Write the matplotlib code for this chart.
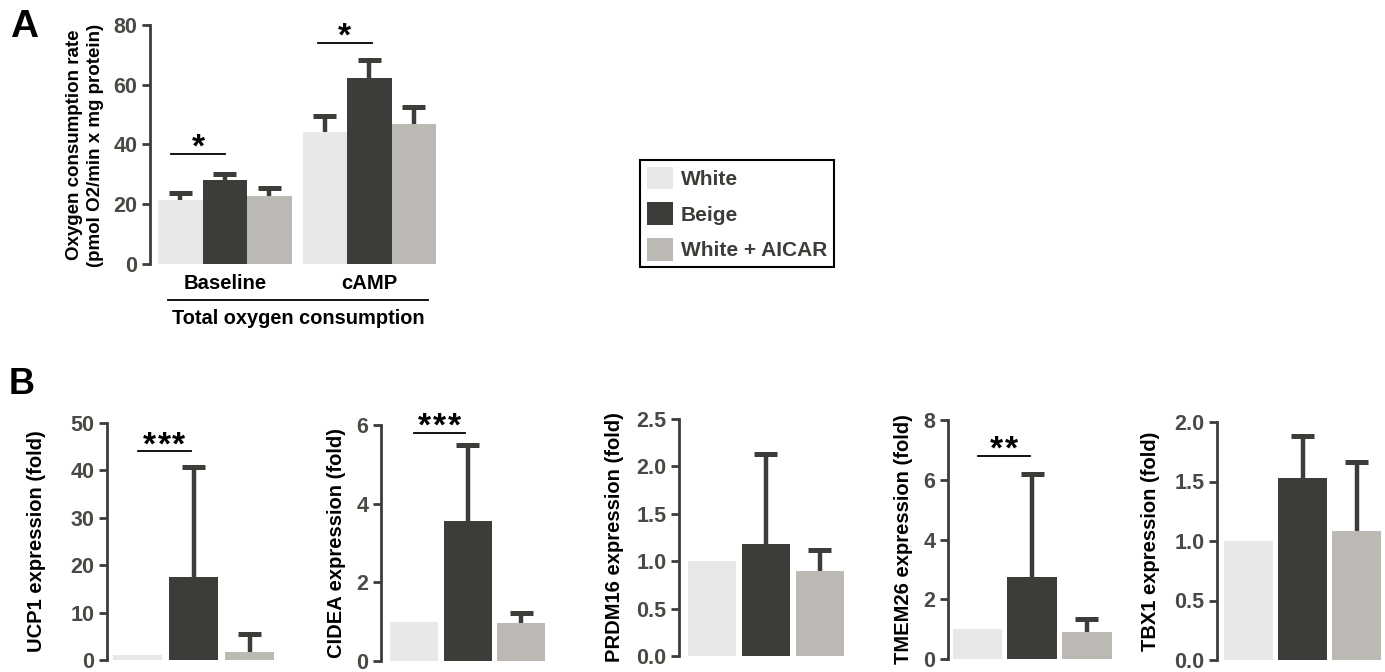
import matplotlib
matplotlib.use("Agg")
import matplotlib.pyplot as plt
from matplotlib.patches import Patch
import numpy as np

plt.rcParams['font.family'] = ['Liberation Sans', 'DejaVu Sans']
plt.rcParams['font.weight'] = 'bold'

W, H = 1385, 672
colors = ['#e8e8e8', '#3c3d38', '#bcb9b4']
DARK = '#3c3d38'
TICKC = '#4a4a45'
groups = ['White', 'Beige', 'White + AICAR']

# panel A data
conditions = ['Baseline', 'cAMP']
ocr_baseline = [21.4, 28.1, 22.8]
ocr_baseline_err = [2.3, 2.0, 2.8]
ocr_camp = [44.2, 62.4, 46.8]
ocr_camp_err = [5.3, 5.8, 5.7]

# panel B data
genes = ['UCP1', 'CIDEA', 'PRDM16', 'TMEM26', 'TBX1']
white_fold = [1.0, 1.0, 1.0, 1.0, 1.0]
beige_fold = [17.5, 3.55, 1.18, 2.74, 1.53]
beige_err = [23.2, 1.95, 0.95, 3.45, 0.35]
aicar_fold = [1.7, 0.96, 0.9, 0.9, 1.08]
aicar_err = [3.7, 0.25, 0.22, 0.45, 0.58]
ymax = [50, 6, 2.5, 8, 2.0]
ystep = [10, 2, 0.5, 2, 0.5]
sig_text = ['***', '***', None, '**', None]
sig_y = [44, 5.8, None, 6.8, None]

fig = plt.figure(figsize=(W / 100, H / 100), dpi=100)


def px_axes(left, top, right, bottom):
    return fig.add_axes([left / W, 1 - bottom / H, (right - left) / W, (bottom - top) / H])


def style(ax, top, step, fmt):
    for s in ['top', 'right', 'bottom']:
        ax.spines[s].set_visible(False)
    ax.spines['left'].set_linewidth(2)
    ax.spines['left'].set_color(DARK)
    ax.set_ylim(0, top)
    ticks = np.arange(0, top + step / 2, step)
    ax.set_yticks(ticks)
    ax.set_yticklabels([fmt.format(t) for t in ticks])
    ax.tick_params(axis='y', direction='out', length=6, width=2, color=DARK,
                   labelsize=15.5, labelcolor=TICKC, pad=3)
    ax.set_xticks([])
    ax.patch.set_alpha(0)


def upper_err(ax, xs, tops, errs, hw):
    xs = np.asarray(xs, float)
    ends = np.asarray(tops) + np.asarray(errs)
    ax.vlines(xs, tops, ends, color=DARK, lw=3.2, zorder=3)
    ax.hlines(ends, xs - hw, xs + hw, color=DARK, lw=3.6, zorder=3)


def sig(ax, x0, x1, y, txt, step_px):
    ax.plot([x0, x1], [y, y], color='black', lw=1.3, clip_on=False)
    n = len(txt)
    xm = (x0 + x1) / 2
    for k in range(n):
        xk = xm + (k - (n - 1) / 2) * 14.7 / step_px
        ax.annotate('*', (xk, y), xytext=(0, -3), textcoords='offset pixels',
                    ha='center', va='baseline', fontsize=24, fontweight='bold',
                    color='black', annotation_clip=False)


# ---- panel A ----
step_a = 44.5
axA = px_axes(150, 25, 437, 264)
xa = [0, 1, 2, 3.25, 4.25, 5.25]
means = ocr_baseline + ocr_camp
errs = ocr_baseline_err + ocr_camp_err
axA.bar(xa, means, width=1.0, color=colors * 2, zorder=2)
upper_err(axA, xa, means, errs, 11.5 / step_a)
left0 = -(158 + step_a / 2 - 150) / step_a
axA.set_xlim(left0, left0 + (437 - 150) / step_a)
style(axA, 80, 20, '{:.0f}')
sig(axA, -0.2, 1.0, 36.8, '*', step_a)
sig(axA, 3.1, 4.3, 74, '*', step_a)
tr = axA.get_xaxis_transform()
axA.text(1, -0.08, conditions[0], transform=tr, ha='center', va='center', fontsize=14.6)
axA.text(4.25, -0.08, conditions[1], transform=tr, ha='center', va='center', fontsize=14.6)
axA.plot([-0.27, 5.57], [-0.151, -0.151], transform=tr, color='black', lw=1.3, clip_on=False)
axA.text(2.65, -0.226, 'Total oxygen consumption', transform=tr, ha='center', va='center',
         fontsize=14.4)
fig.text(85 / W, 1 - 145 / H, 'Oxygen consumption rate\n(pmol O2/min x mg protein)',
         rotation=90, ha='center', va='center', fontsize=13.5, linespacing=1.25)

fig.text(10 / W, 1 - 27 / H, 'A', fontsize=28, ha='left', va='center')
fig.text(9 / W, 1 - 385 / H, 'B', fontsize=26, ha='left', va='center')

# legend
handles = [Patch(facecolor=c, edgecolor='none', label=g) for c, g in zip(colors, groups)]
leg = fig.legend(handles=handles, loc='upper left', bbox_to_anchor=(640 / W, 1 - 160 / H),
                 bbox_transform=fig.transFigure, borderaxespad=0, fontsize=15,
                 handlelength=1.25, handleheight=1.3, handletextpad=0.38,
                 labelspacing=0.62, borderpad=0.32, fancybox=False, framealpha=1)
leg.get_frame().set_edgecolor('black')
leg.get_frame().set_linewidth(1.5)
for t in leg.get_texts():
    t.set_color(DARK)

# ---- panel B ----
# layout in pixels: spine x, first bar left, bar step, bar width, top, bottom, ylabel x
layout = [
    (107, 113, 56.0, 49, 423, 660, 37),
    (381, 390, 53.5, 48, 425, 661, 336),
    (679, 688, 54.0, 47.5, 419, 656, 614),
    (948, 953, 54.5, 49.5, 420, 659, 904),
    (1217, 1224, 54.0, 49, 422, 660, 1151),
]
fmts = ['{:.0f}', '{:.0f}', '{:.1f}', '{:.0f}', '{:.1f}']
for i, g in enumerate(genes):
    spine, first, step, bw, top, bottom, lx = layout[i]
    right = first + 2 * step + bw + 2
    ax = px_axes(spine, top, right, bottom)
    vals = [white_fold[i], beige_fold[i], aicar_fold[i]]
    ax.bar([0, 1, 2], vals, width=bw / step, color=colors, zorder=2)
    upper_err(ax, [1, 2], vals[1:], [beige_err[i], aicar_err[i]], 11.5 / step)
    l0 = -(first + bw / 2 - spine) / step
    ax.set_xlim(l0, l0 + (right - spine) / step)
    style(ax, ymax[i], ystep[i], fmts[i])
    if sig_text[i]:
        sig(ax, 0, 0.95, sig_y[i], sig_text[i], step)
    fig.text(lx / W, 1 - (top + bottom) / 2 / H, g + ' expression (fold)', rotation=90,
             ha='center', va='center', fontsize=14.5)

fig.savefig('out.png', dpi=100)
